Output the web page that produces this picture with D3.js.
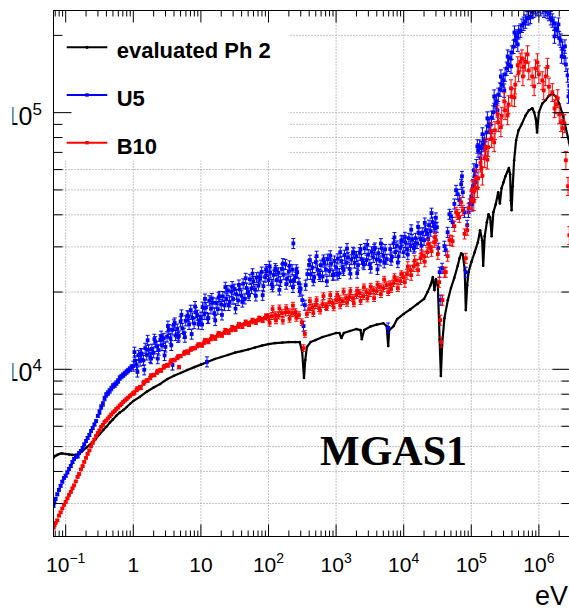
<!DOCTYPE html>
<html>
<head>
<meta charset="utf-8">
<script src="https://cdn.jsdelivr.net/npm/d3@7/dist/d3.min.js"></script>
<style>
  body { margin: 0; background: #fff; }
  svg { display: block; }
</style>
</head>
<body>
<svg id="chart" width="569" height="610"></svg>
<script>
// ---- labels ----
const energyUnit = "eV";
const plotTag = "MGAS1";
const seriesNames = ["evaluated Ph 2", "U5", "B10"];
const seriesColors = ["#000000", "#0000ff", "#ff0000"];
const xTickValues = [0.1, 1, 10, 100, 1e3, 1e4, 1e5, 1e6];
const xTickBase = ["10", "1", "10", "10", "10", "10", "10", "10"];
const xTickExp = ["\u22121", "", "", "2", "3", "4", "5", "6"];
const yTickValues = [1e4, 1e5];
const yTickBase = ["10", "10"];
const yTickExp = ["4", "5"];

// ---- evaluated Ph 2 : [energy (eV), value] ----
const phase2 = [
  [0.066,4520],[0.07,4600],[0.075,4640],[0.08,4680],[0.085,4700],[0.09,4700],[0.1,4680],[0.112,4660],
  [0.125,4640],[0.14,4640],[0.16,4700],[0.18,4830],[0.2,4940],[0.225,5070],[0.25,5210],[0.28,5370],
  [0.32,5600],[0.36,5800],[0.4,5970],[0.45,6200],[0.5,6380],[0.56,6590],[0.63,6780],[0.71,6940],
  [0.8,7130],[0.9,7340],[1,7530],[1.25,7810],[1.6,8200],[2,8500],[2.5,8770],[3.2,9170],[4,9440],
  [5,9670],[6.3,9940],[8,10200],[10,10430],[12.5,10680],[16,10970],[20,11170],[25,11370],[32,11620],
  [40,11780],[50,11950],[63,12160],[80,12370],[100,12540],[125,12650],[160,12710],[200,12770],
  [250,12770],[290,12770],[315,11680],[335,9250],[350,10870],[370,12220],[420,12770],[500,13000],
  [630,13370],[800,13600],[1000,13850],[1120,13850],[1200,13240],[1300,13850],[1600,14100],
  [2000,14350],[2300,14220],[2400,13100],[2600,14220],[3200,14670],[4000,14940],[5000,15120],
  [5600,14740],[5900,12320],[6100,14220],[7100,14740],[8000,15690],[10000,16430],[12500,17120],
  [16000,17970],[20000,18800],[22500,19990],[25000,21280],[27000,22860],[28500,20350],[30000,22420],
  [32000,21280],[34000,13000],[35500,9420],[37000,12430],[40000,15810],[45000,18600],[50000,20730],
  [56000,22710],[63000,25330],[67000,27100],[71000,28320],[75000,28030],[80000,24340],[83000,17010],
  [87000,21280],[91000,23910],[100000,26150],[112000,28540],[125000,31210],[135000,34830],
  [145000,31850],[150000,25330],[158000,33000],[170000,37430],[180000,40180],[190000,39110],
  [200000,33000],[212000,40900],[230000,43930],[250000,48960],[265000,44330],[280000,50750],
  [300000,53570],[320000,56550],[340000,58720],[360000,60900],[375000,57590],[385000,45580],
  [395000,41670],[410000,51700],[430000,65220],[460000,78020],[500000,85330],[560000,90400],
  [630000,97140],[710000,102100],[800000,104000],[850000,100300],[900000,94700],[940000,83800],
  [1000000,100300],[1120000,108400],[1250000,111700],[1400000,116300],[1600000,118400],
  [1800000,115200],[2000000,108400],[2240000,98500],[2500000,87000],[2800000,76600],[2930000,72000]
];

// ---- U5 : [energy (eV), value] ----
const u5 = [
  [0.066,2940],[0.0682,3046],[0.0708,3130],[0.0751,3258],[0.0794,3390],[0.0841,3516],[0.0891,3650],
  [0.0944,3775],[0.1,3850],[0.106,3966],[0.112,4090],[0.119,4204],[0.126,4350],[0.133,4476],
  [0.141,4560],[0.15,4578],[0.158,4720],[0.168,4809],[0.178,4940],[0.188,5098],[0.2,5260],
  [0.211,5402],[0.224,5550],[0.237,5752],[0.251,5910],[0.266,6098],[0.282,6290],[0.299,6579],
  [0.316,6820],[0.335,7132],[0.355,7330],[0.376,7697],[0.398,7950],[0.422,8085],[0.447,8240],
  [0.473,8418],[0.501,8610],[0.531,8686],[0.562,8840],[0.596,9005],[0.631,9250],[0.668,9375],
  [0.708,9500],[0.75,9631],[0.794,9760],[0.841,9893],[0.891,10030],[0.944,10210],
  [1,10300],[1.04,11670],[1.06,10800],[1.12,10440],[1.15,9770],[1.19,11350],[1.26,10780],
  [1.29,11530],[1.33,11500],[1.41,10830],[1.45,9960],[1.5,12090],[1.58,11380],[1.63,12980],
  [1.68,11930],[1.78,11140],[1.83,11010],[1.88,11990],[2,11600],[2.05,13110],[2.11,12830],
  [2.24,12300],[2.3,11010],[2.37,11890],[2.51,13040],[2.58,13480],[2.66,12380],[2.82,13210],
  [2.9,11330],[2.99,12230],[3.16,13400],[3.25,14750],[3.35,14300],[3.55,13220],[3.65,12400],
  [3.76,14240],[3.8,10400],[3.98,14920],[4.1,15170],[4.22,13560],[4.47,14360],[4.6,13330],
  [4.73,13500],[5.01,15340],[5.15,16310],[5.31,14440],[5.62,13840],[5.8,13350],[5.96,15460],
  [6.31,16190],[6.5,16040],[6.68,14960],[7.08,17010],[7.3,13720],[7.5,15860],[7.94,15080],
  [8.2,17570],[8.41,16680],[8.91,16260],[9.2,15020],[9.44,15460],
  [10,15980],[10.4,14950],[10.6,17470],[11.2,16380],[11.5,18800],[11.9,17440],[12.3,10700],
  [12.6,15780],[12.9,15840],[13.3,18510],[14.1,17210],[14.5,18900],[15,18170],[15.8,16560],
  [16.3,15500],[16.8,18140],[17.8,17160],[18.3,19020],[18.8,19260],[20,17880],[20.5,16300],
  [21.1,19230],[22.4,17730],[23,20900],[23.7,18850],[25.1,20290],[25.8,17760],[26.6,18320],
  [28.2,20080],[29,21020],[29.9,18780],[31.6,20540],[32.5,17230],[33.5,19610],[35.5,18560],
  [36.5,21320],[37.6,20480],[39.8,19370],[41,18300],[42.2,21550],[44.7,18820],[46,22640],
  [47.3,20740],[50.1,19820],[51.5,19390],[53.1,22440],[56.2,20680],[58,23590],[59.6,22000],
  [63.1,20480],[65,19330],[66.8,22770],[70.8,21170],[73,22880],[75,22520],[79.4,23950],
  [82,19440],[84.1,21090],[89.1,22860],[92,24500],[94.4,24090],
  [100,22260],[104,25230],[106,23780],[112,21430],[115,20980],[119,23310],[126,24700],
  [129,24300],[133,22260],[141,23780],[145,20390],[150,22020],[158,24610],[163,25830],
  [168,23390],[178,25650],[183,21480],[188,22520],[200,24040],[205,25320],[211,22060],
  [224,24460],[230,20870],[233,30940],[237,22260],[251,22860],[258,24450],[266,23910],
  [282,21660],[290,20170],[299,20570],[316,18610],[330,14740],[345,17790],[355,21280],
  [376,23490],[398,25510],[410,26630],[422,23430],[447,24900],[460,22160],[473,22790],
  [501,26150],[515,27600],[531,24430],[562,23430],[580,23010],[596,25470],[631,22990],
  [650,26700],[668,26150],[708,24430],[730,22040],[750,26890],[794,24160],[820,27720],
  [841,25790],[891,23290],[920,23300],[944,26440],
  [1000,24950],[1040,23340],[1060,26950],[1120,23650],[1150,28600],[1190,26400],[1260,24770],
  [1290,24300],[1330,27850],[1410,25980],[1450,29540],[1500,27320],[1580,24610],[1630,23570],
  [1680,26760],[1780,28610],[1830,28400],[1880,25980],[2000,27560],[2050,23700],[2110,25470],
  [2240,28500],[2300,29330],[2370,26860],[2510,25980],[2580,25600],[2660,29600],[2820,26650],
  [2900,30560],[2990,28000],[3160,25650],[3250,24830],[3350,28720],[3550,27320],[3650,29380],
  [3760,29720],[3980,26760],[4100,24520],[4220,28350],[4470,26460],[4600,30900],[4730,29600],
  [5010,27650],[5150,26010],[5310,29330],[5620,26860],[5900,14500],[6310,29390],[6500,26630],
  [6680,27410],[7080,30970],[7300,32660],[7500,28610],[7940,30290],[8200,26060],[8410,27560],
  [8910,29720],[9200,31680],[9440,31840],
  [10000,28610],[10400,32720],[10600,31210],[11200,29390],[11500,28000],[11900,32420],
  [12600,30200],[12900,34990],[13300,32130],[14100,29660],[14500,30050],[15000,32420],
  [15800,30940],[16300,35910],[16800,33920],[17800,32130],[18300,30290],[18800,34080],
  [20000,31850],[20500,37190],[21100,34720],[22400,33760],[23000,32190],[23700,36470],
  [25100,34560],[25800,40610],[26600,37480],[28200,36150],[29000,35500],[29900,38920],
  [31000,35790],[32500,29660],[34000,23910],[35500,18610],[37000,24780],[40000,30200],
  [42000,29120],[44700,34200],[47500,40210],[50100,39460],[53000,37420],[56200,44110],
  [59500,49850],[63100,48100],[66500,45580],[70800,52630],[72800,56510],[75000,48960],
  [79400,40910],[83000,23910],[87000,36440],[91000,40910],[94400,44110],
  [100000,47160],[103000,43970],[106000,51700],[109000,59640],[112000,56550],[116000,53560],
  [119000,61990],[123000,73940],[126000,71340],[133000,73860],[137000,66410],[141000,72660],
  [146000,82340],[150000,75260],[158000,78020],[163000,72630],[168000,83800],[173000,95030],
  [178000,88480],[188000,90100],[194000,83820],[200000,95600],[211000,100300],[218000,115700],
  [224000,106700],[237000,110700],[244000,102100],[251000,117500],[266000,123200],[274000,138400],
  [282000,128500],[299000,133600],[307000,122100],[316000,141000],[335000,148600],[345000,165600],
  [355000,153800],[376000,163000],[387000,151400],[398000,171600],[422000,180700],[435000,205300],
  [447000,191100],[473000,198600],[487000,184400],[501000,205800],[531000,209000],[562000,218400],
  [596000,222200],[631000,226700],[668000,233600],[708000,233600],[750000,236300],[794000,247000],
  [841000,250000],[891000,258200],[944000,253300],[1000000,262000],[1060000,253300],
  [1120000,258200],[1190000,250000],[1260000,253300],[1330000,247000],[1410000,242600],
  [1500000,233600],[1580000,228700],[1680000,222200],[1700000,198100],[1780000,212700],
  [1880000,209000],[1950000,220600],[2000000,195000],[2110000,191100],[2170000,165600],
  [2240000,177800],[2370000,164500],[2430000,181200],[2510000,154000],[2660000,139700],
  [2740000,115700],[2820000,127300]
];

// ---- B10 : [energy (eV), value] ----
const b10 = [
  [0.066,2413],[0.0682,2467],[0.0708,2520],[0.0751,2580],[0.0794,2690],[0.0841,2772],[0.0891,2870],
  [0.0944,2964],[0.1,3045],[0.106,3143],[0.112,3240],[0.119,3332],[0.126,3440],[0.133,3531],
  [0.141,3660],[0.15,3809],[0.158,3910],[0.168,4074],[0.178,4200],[0.188,4358],[0.2,4520],
  [0.211,4681],[0.224,4830],[0.237,5007],[0.251,5170],[0.266,5331],[0.282,5500],[0.299,5650],
  [0.316,5780],[0.335,5963],[0.355,6070],[0.376,6235],[0.398,6320],[0.422,6434],[0.447,6550],
  [0.473,6669],[0.501,6790],[0.531,6881],[0.562,7010],[0.596,7100],[0.631,7230],[0.668,7326],
  [0.708,7460],[0.75,7559],[0.794,7660],[0.841,7765],[0.891,7870],[0.944,7977],
  [1,8050],[1.04,8120],[1.12,8310],[1.15,8418],[1.26,8530],[1.29,8456],[1.41,8800],[1.45,8927],
  [1.58,9040],[1.63,9047],[1.78,9250],[1.83,9460],[2,9500],[2.05,9502],[2.24,9720],[2.3,9849],
  [2.51,9940],[2.58,9893],[2.82,10170],[2.9,10300],[3.16,10400],[3.25,10350],[3.55,10630],
  [3.65,10820],[3.98,10870],[4.1,10870],[4.47,11070],[4.6,11220],[4.75,10200],[5.01,11270],
  [5.62,11520],[5.8,11680],[6.31,11730],[6.5,11620],[7.08,11940],[7.3,12050],[7.94,12100],
  [8.2,12100],[8.91,12320],[9.2,12490],
  [10,12490],[10.4,12380],[11.2,12710],[11.5,13000],[12.6,12940],[12.9,12770],[14.1,13120],
  [14.5,13420],[15.8,13350],[16.3,13180],[17.8,13540],[18.3,13840],[20,13720],[20.5,13540],
  [22.4,13900],[23,14220],[25.1,14090],[25.8,13900],[28.2,14220],[29,14610],[31.6,14480],
  [32.5,14280],[35.5,14670],[36.5,15010],[39.8,14870],[41,14650],[44.7,15000],[46,15320],
  [50.1,15140],[51.5,14900],[56.2,15280],[58,15580],[63.1,15410],[65,15170],[70.8,15550],
  [73,15870],[79.4,15690],[82,15440],[89.1,15830],[92,16180],
  [100,15980],[104,15180],[112,16120],[115,17170],[126,16270],[129,15520],[141,16190],
  [145,17280],[158,16560],[163,15480],[178,16640],[183,17320],[200,16710],[205,15730],
  [224,16560],[230,17710],[251,16710],[258,15880],[282,16270],[310,15260],[330,12100],
  [345,13740],[370,16420],[398,17160],[410,18440],[447,17470],[460,16560],[501,17790],
  [515,18610],[562,17310],[580,16940],[631,17950],[650,19290],[708,17630],[730,17480],
  [794,18280],[820,19460],[891,18120],[920,17430],
  [1000,18610],[1040,19500],[1120,18780],[1150,17760],[1260,18440],[1290,20090],[1410,18950],
  [1450,18150],[1580,19120],[1630,20180],[1780,18950],[1830,18070],[2000,19460],[2050,20250],
  [2240,19810],[2300,18460],[2510,19290],[2580,20870],[2820,19990],[2900,18880],[3160,19810],
  [3250,21000],[3550,20350],[3650,18940],[3980,20170],[4100,21380],[4470,20900],[4600,19640],
  [5010,20710],[5150,22360],[5620,21280],[5900,19990],[6310,21470],[6500,20530],[7080,21660],
  [7300,22870],[7940,22260],[8200,20720],[8910,22060],[9200,23490],
  [10000,22860],[10400,21860],[11200,23490],[11500,25120],[12600,24340],[12900,23280],
  [14100,25190],[14500,26510],[15800,25650],[16300,24340],[17800,27100],[18300,28100],
  [20000,27600],[20500,26270],[22400,28610],[23000,30730],[25100,29930],[25800,28860],
  [28200,31280],[29000,32720],[30000,31850],[32000,28100],[33500,21860],[34800,15550],
  [36000,12770],[37500,18610],[40000,23910],[42000,23910],[44700,27600],[47500,31850],
  [50100,31850],[53000,31570],[56200,36120],[59500,40940],[63100,40180],[66500,39140],
  [70800,44740],[75000,41670],[79400,33710],[83000,27100],[87000,34830],[91000,42420],
  [100000,45580],[103000,50260],[109000,45130],[112000,49850],[116000,55510],[123000,50750],
  [126000,55510],[137000,63780],[141000,60900],[146000,56770],[158000,66400],[163000,73610],
  [173000,65520],[178000,73300],[194000,84580],[200000,79440],[218000,76620],[224000,85330],
  [244000,98490],[251000,91680],[274000,87670],[282000,97140],[307000,110700],[316000,102100],
  [345000,97570],[355000,107700],[387000,124300],[398000,115400],[435000,114700],[447000,128500],
  [487000,152800],[501000,143400],[530000,157900],[562000,162600],[580000,138400],[600000,151000],
  [631000,157900],[680000,168600],[708000,146000],[794000,138400],[850000,126600],[891000,148600],
  [950000,156900],[1000000,141000],[1120000,133600],[1180000,122100],[1260000,138400],
  [1340000,150700],[1410000,126200],[1580000,120100],[1700000,103900],[1780000,107700],
  [1900000,113700],[2000000,98500],[2120000,91690],[2240000,86900],[2380000,90870],
  [2510000,65220],[2700000,51700],[2820000,33300]
];

// relative error bars: energy band edges and the relative half-size of the bar in each band
const u5ErrEdges = [0.3, 1, 1e5];
const u5ErrRel = [0.012, 0.02, 0.045, 0.06];
const b10ErrEdges = [1, 100, 1e4, 1e5];
const b10ErrRel = [0.008, 0.015, 0.03, 0.045, 0.08];

// ---- layout ----
const F = { left: 53.5, right: 570.5, top: 10.5, bottom: 536.5 };
const x = d3.scaleLog().domain([0.066, 2.935e6]).range([F.left, F.right]);
const y = d3.scaleLog().domain([2232, 250000]).range([F.bottom, F.top]);
const svg = d3.select("#chart");
const sansFont = "'Liberation Sans', Arial, Helvetica, sans-serif";

function logTicks(scale) {
  const [a, b] = scale.domain();
  const out = [];
  for (let e = Math.floor(Math.log10(a)); e <= Math.ceil(Math.log10(b)); e++) {
    for (let k = 1; k <= 9; k++) {
      const v = k * Math.pow(10, e);
      if (v >= a && v <= b) out.push({ v, major: k === 1 });
    }
  }
  return out;
}
const xt = logTicks(x);
const yt = logTicks(y);

// grid: vertical at decades, horizontal at every tick
const grid = svg.append("g")
  .attr("stroke", "#8a8a8a").attr("stroke-width", 1).attr("stroke-dasharray", "1,2");
xt.filter(t => t.major).forEach(t => {
  grid.append("line").attr("x1", x(t.v)).attr("x2", x(t.v)).attr("y1", F.top).attr("y2", F.bottom);
});
yt.forEach(t => {
  const yy = y(t.v);
  if (yy < F.top + 2 || yy > F.bottom - 2) return;
  grid.append("line").attr("x1", F.left).attr("x2", F.right).attr("y1", yy).attr("y2", yy);
});

// legend background
svg.append("rect").attr("x", F.left + 0.5).attr("y", F.top + 0.5)
  .attr("width", 288 - F.left).attr("height", 160 - F.top).attr("fill", "#fff");

// ---- data ----
svg.append("clipPath").attr("id", "frameClip").append("rect")
  .attr("x", F.left).attr("y", F.top).attr("width", F.right - F.left).attr("height", F.bottom - F.top);
const plot = svg.append("g").attr("clip-path", "url(#frameClip)");

// evaluated curve
plot.append("path").datum(phase2)
  .attr("fill", "none").attr("stroke", seriesColors[0]).attr("stroke-width", 2.2)
  .attr("stroke-linejoin", "round")
  .attr("d", d3.line().x(d => x(d[0])).y(d => y(d[1])));
plot.append("g").selectAll("circle").data(phase2).join("circle")
  .attr("cx", d => x(d[0])).attr("cy", d => y(d[1])).attr("r", 1.3).attr("fill", seriesColors[0]);

// measured points with error bars
function drawPoints(data, color, edges, rel) {
  const g = plot.append("g");
  const cap = 2;
  const ms = 3.8;
  data.forEach(d => {
    const r = rel[d3.bisectRight(edges, d[0])];
    const cx = x(d[0]);
    const y0 = y(d[1] * (1 - r)), y1 = y(d[1] * (1 + r));
    g.append("line").attr("x1", cx).attr("x2", cx).attr("y1", y0).attr("y2", y1)
      .attr("stroke", color).attr("stroke-width", 1);
    [y0, y1].forEach(yy => g.append("line").attr("x1", cx - cap).attr("x2", cx + cap)
      .attr("y1", yy).attr("y2", yy).attr("stroke", color).attr("stroke-width", 1));
    g.append("rect").attr("x", cx - ms / 2).attr("y", y(d[1]) - ms / 2)
      .attr("width", ms).attr("height", ms).attr("fill", color);
  });
}
drawPoints(u5, seriesColors[1], u5ErrEdges, u5ErrRel);
drawPoints(b10, seriesColors[2], b10ErrEdges, b10ErrRel);

// ---- frame and ticks ----
const axes = svg.append("g").attr("stroke", "#000").attr("stroke-width", 1);
axes.append("rect").attr("x", F.left).attr("y", F.top)
  .attr("width", F.right - F.left).attr("height", F.bottom - F.top).attr("fill", "none");
xt.forEach(t => {
  const xx = x(t.v), len = t.major ? 12 : 6;
  axes.append("line").attr("x1", xx).attr("x2", xx).attr("y1", F.bottom).attr("y2", F.bottom - len);
  axes.append("line").attr("x1", xx).attr("x2", xx).attr("y1", F.top).attr("y2", F.top + len);
});
yt.forEach(t => {
  const yy = y(t.v), len = t.major ? 18 : 9;
  axes.append("line").attr("x1", F.left).attr("x2", F.left + len).attr("y1", yy).attr("y2", yy);
  axes.append("line").attr("x1", F.right).attr("x2", F.right - len).attr("y1", yy).attr("y2", yy);
});

// ---- tick labels ----
xTickValues.forEach((v, i) => {
  const t = svg.append("text").attr("x", x(v)).attr("y", 571.5)
    .attr("text-anchor", "middle").attr("font-family", sansFont).attr("font-size", 21).attr("fill", "#000");
  t.append("tspan").text(xTickBase[i]);
  if (xTickExp[i]) t.append("tspan").attr("dy", -8.5).attr("font-size", 14).text(xTickExp[i]);
});
yTickValues.forEach((v, i) => {
  const t = svg.append("text").attr("x", 42).attr("y", y(v) + 12)
    .attr("text-anchor", "end").attr("font-family", sansFont).attr("font-size", 25).attr("fill", "#000");
  t.append("tspan").text(yTickBase[i]);
  t.append("tspan").attr("dy", -10).attr("font-size", 17).text(yTickExp[i]);
});
// left margin strip
svg.append("rect").attr("x", 0).attr("y", 0).attr("width", 12.5).attr("height", 610).attr("fill", "#fff");

// axis unit
svg.append("text").attr("x", 568).attr("y", 605).attr("text-anchor", "end")
  .attr("font-family", sansFont).attr("font-size", 27).attr("fill", "#000").text(energyUnit);

// tag
svg.append("text").attr("x", 320).attr("y", 465)
  .attr("font-family", "'Liberation Serif', 'Times New Roman', serif").attr("font-weight", "bold")
  .attr("font-size", 42).attr("fill", "#000").text(plotTag);

// ---- legend ----
const legendY = [47.3, 95, 142.7];
seriesNames.forEach((name, i) => {
  const ly = legendY[i], c = seriesColors[i];
  svg.append("line").attr("x1", 66.7).attr("x2", 107.3).attr("y1", ly).attr("y2", ly)
    .attr("stroke", c).attr("stroke-width", 2);
  if (i === 0) {
    svg.append("circle").attr("cx", 87).attr("cy", ly).attr("r", 1.6).attr("fill", c);
  } else {
    svg.append("rect").attr("x", 85.3).attr("y", ly - 1.7).attr("width", 3.4).attr("height", 3.4).attr("fill", c);
  }
  svg.append("text").attr("x", 116.7).attr("y", ly + 11)
    .attr("font-family", sansFont).attr("font-weight", "bold").attr("font-size", 22)
    .attr("fill", "#000").text(name);
});
</script>
</body>
</html>
